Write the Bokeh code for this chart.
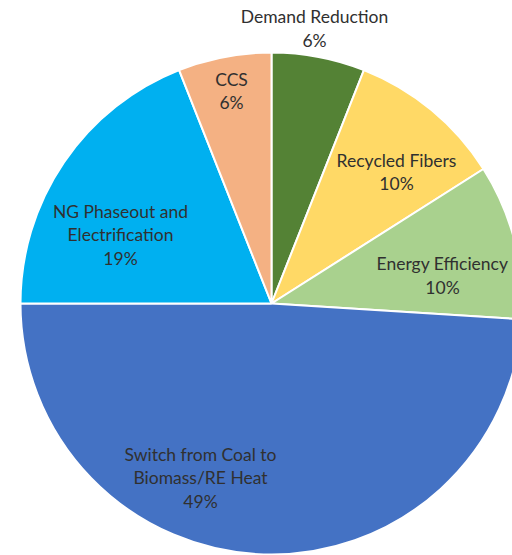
import math
from bokeh.plotting import figure
from bokeh.models import Range1d, ColumnDataSource
from bokeh.core.properties import value
from bokeh.embed import file_html
from bokeh.resources import INLINE

# Shares of the emission-reduction wedges, clockwise from 12 o'clock
categories = ["Demand Reduction", "Recycled Fibers", "Energy Efficiency",
              "Switch from Coal to Biomass/RE Heat", "NG Phaseout and Electrification", "CCS"]
shares = [6, 10, 10, 49, 19, 6]
colors = ["#548235", "#FFD966", "#A9D18E", "#4472C4", "#00B0F0", "#F4B183"]

# Label text lines per wedge (name lines, then the percentage)
label_lines = [
    ["Demand Reduction"],
    ["Recycled Fibers"],
    ["Energy Efficiency"],
    ["Switch from Coal to", "Biomass/RE Heat"],
    ["NG Phaseout and", "Electrification"],
    ["CCS"],
]
# Label block centres in canvas coordinates (pixels from top-left)
label_cx = [314, 396, 442, 200, 120, 231]
label_cy = [28, 171.5, 275, 477, 234, 90.5]

W, H = 512, 555
cx, cy, radius = 271, H - 303, 251
line_gap = 23.5

total = sum(shares)
starts, ends = [], []
acc = 0.0
for s in shares:
    starts.append(math.pi / 2 - 2 * math.pi * acc / total)
    acc += s
    ends.append(math.pi / 2 - 2 * math.pi * acc / total)

src = ColumnDataSource(dict(start=starts, end=ends, color=colors, name=categories))

p = figure(width=W, height=H, x_range=Range1d(0, W), y_range=Range1d(0, H),
           output_backend="svg", toolbar_location=None, min_border=0)
p.axis.visible = False
p.grid.visible = False
p.outline_line_color = None
p.background_fill_color = "white"
p.border_fill_color = "white"

p.wedge(x=cx, y=cy, radius=radius, start_angle="start", end_angle="end",
        direction="clock", fill_color="color", line_color="white", line_width=2,
        source=src)

tx, ty, tt = [], [], []
for lines, s, x0, y0 in zip(label_lines, shares, label_cx, label_cy):
    all_lines = lines + [f"{s}%"]
    n = len(all_lines)
    for i, t in enumerate(all_lines):
        tx.append(x0)
        ty.append(H - (y0 + (i - (n - 1) / 2) * line_gap))
        tt.append(t)

p.text(x=tx, y=ty, text=tt, text_align="center", text_baseline="middle",
       text_font=value("Lato"), text_font_size="17.5px", text_color="#303030")

open("out.html", "w").write(file_html(p, INLINE))
